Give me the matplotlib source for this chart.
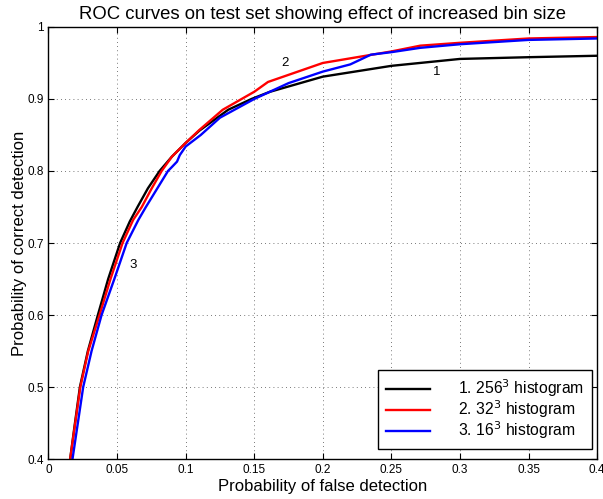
import matplotlib
matplotlib.use('Agg')
import matplotlib.pyplot as plt

plt.rcParams['font.family'] = ['Liberation Sans', 'DejaVu Sans']

# ROC curves (false detection, correct detection)
x_256 = [0.0158, 0.0193, 0.0229, 0.0287, 0.036, 0.0435, 0.0522, 0.0593, 0.0649, 0.0725, 0.081,
         0.09, 0.1, 0.11, 0.131, 0.148, 0.1615, 0.2, 0.25, 0.3, 0.35, 0.4]
y_256 = [0.40, 0.45, 0.50, 0.55, 0.60, 0.65, 0.70, 0.73, 0.75, 0.776, 0.80,
         0.820, 0.839, 0.856, 0.885, 0.90, 0.910, 0.931, 0.946, 0.9556, 0.958, 0.960]

x_32 = [0.0158, 0.0195, 0.0232, 0.029, 0.0372, 0.0452, 0.054, 0.0617, 0.068, 0.075, 0.0825,
        0.09, 0.1, 0.11, 0.127, 0.15, 0.16, 0.2, 0.25, 0.271, 0.3, 0.35, 0.4]
y_32 = [0.40, 0.45, 0.50, 0.55, 0.60, 0.65, 0.70, 0.732, 0.75, 0.775, 0.80,
        0.820, 0.839, 0.857, 0.885, 0.910, 0.9236, 0.950, 0.966, 0.974, 0.978, 0.984, 0.986]

x_16 = [0.0175, 0.0214, 0.0253, 0.0314, 0.0387, 0.048, 0.057, 0.0655, 0.071, 0.0871,
        0.0897, 0.0937, 0.0957, 0.1, 0.111, 0.125, 0.15, 0.175, 0.2, 0.22,
        0.235, 0.25, 0.271, 0.3, 0.35, 0.4]
y_16 = [0.40, 0.45, 0.50, 0.55, 0.60, 0.65, 0.70, 0.732, 0.75, 0.80,
        0.805, 0.813, 0.822, 0.834, 0.85, 0.874, 0.900, 0.922, 0.938, 0.948,
        0.9615, 0.965, 0.971, 0.976, 0.982, 0.984]

labels = ['1. 256$^3$ histogram', '2. 32$^3$ histogram', '3. 16$^3$ histogram']
# curve number annotations: (text, x, y)
notes = [('1', 0.283, 0.937), ('2', 0.1725, 0.950), ('3', 0.0617, 0.669)]

fig = plt.figure(figsize=(6.03, 4.99), dpi=100)
ax = fig.add_axes([0.0804, 0.08, 0.910, 0.866])

ax.plot(x_256, y_256, color='k', lw=1.7, label=labels[0])
ax.plot(x_32, y_32, color='r', lw=1.7, label=labels[1])
ax.plot(x_16, y_16, color='b', lw=1.7, label=labels[2])

for t, x, y in notes:
    ax.text(x, y, t, fontsize=9.5, ha='center', va='center')

ax.set_xlim(0, 0.4)
ax.set_ylim(0.4, 1)
ax.set_xticks([0, 0.05, 0.1, 0.15, 0.2, 0.25, 0.3, 0.35, 0.4])
ax.set_xticklabels(['0', '0.05', '0.1', '0.15', '0.2', '0.25', '0.3', '0.35', '0.4'])
ax.set_yticks([0.4, 0.5, 0.6, 0.7, 0.8, 0.9, 1])
ax.set_yticklabels(['0.4', '0.5', '0.6', '0.7', '0.8', '0.9', '1'])
ax.tick_params(direction='in', top=True, right=True, labelsize=8.5, length=4, width=0.8)
ax.grid(True, linestyle=(0, (1, 4)), color='k', linewidth=0.6, alpha=0.7)
for s in ax.spines.values():
    s.set_linewidth(1.0)

ax.set_title('ROC curves on test set showing effect of increased bin size', fontsize=13.3, pad=6)
ax.set_xlabel('Probability of false detection', fontsize=12, labelpad=2)
ax.set_ylabel('Probability of correct detection', fontsize=12, labelpad=0)

leg = ax.legend(loc='lower right', fontsize=11.3, frameon=True, fancybox=False,
                edgecolor='k', framealpha=1, handlelength=2.8, handletextpad=1.8,
                borderpad=0.5, labelspacing=-0.05, borderaxespad=0,
                bbox_to_anchor=(0.991, 0.023))
leg.get_frame().set_linewidth(1.0)

fig.savefig('out.png', dpi=100)
